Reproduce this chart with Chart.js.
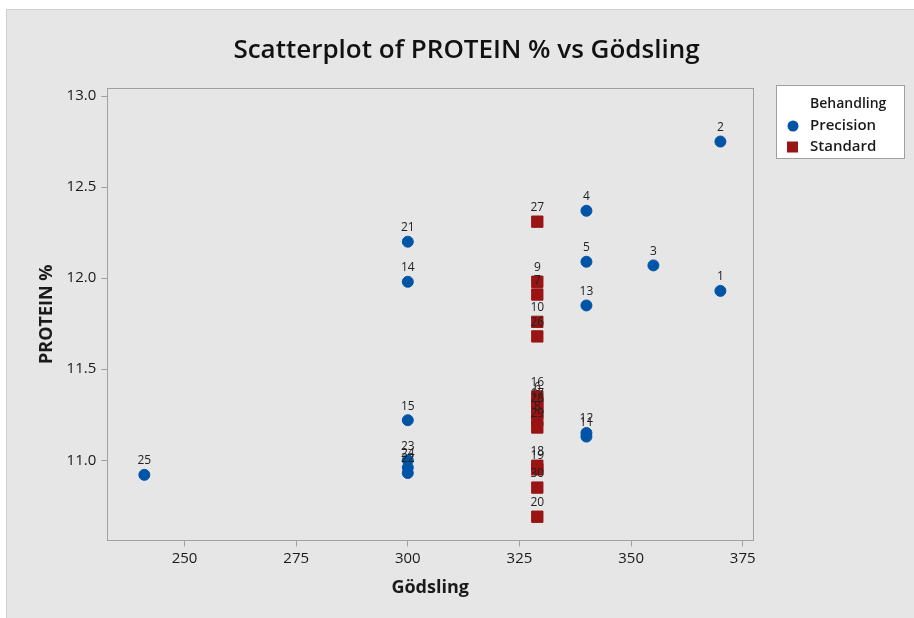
<!DOCTYPE html>
<html>
<head>
<meta charset="utf-8">
<title>Scatterplot of PROTEIN % vs Gödsling</title>
<script src="https://cdn.jsdelivr.net/npm/chart.js@4.4.1/dist/chart.umd.min.js"></script>
<style>
  html, body { margin: 0; padding: 0; background: #fff; overflow: hidden; }
  #panel {
    position: absolute; left: 6px; top: 9px; width: 919px; height: 608px;
    background: #e6e6e6; border-left: 1px solid #cfcfcf; border-top: 1px solid #cfcfcf;
  }
</style>
</head>
<body>
<div id="panel"><canvas id="scatter" width="919" height="608"></canvas></div>
<script>
// Observation numbers, Gödsling (x) and PROTEIN % (y) per treatment
var precisionIds = [1, 2, 3, 4, 5, 11, 12, 13, 14, 15, 21, 22, 23, 24, 25];
var precisionX = [370, 370, 355, 340, 340, 340, 340, 340, 300, 300, 300, 300, 300, 300, 241];
var precisionY = [11.93, 12.75, 12.07, 12.37, 12.09, 11.13, 11.15, 11.85, 11.98, 11.22, 12.20, 10.93, 11.00, 10.96, 10.92];

var standardIds = [6, 7, 8, 9, 10, 16, 17, 18, 19, 20, 26, 27, 28, 29, 30];
var standardX = [329, 329, 329, 329, 329, 329, 329, 329, 329, 329, 329, 329, 329, 329, 329];
var standardY = [11.32, 11.91, 11.22, 11.98, 11.76, 11.35, 11.29, 10.97, 10.95, 10.69, 11.68, 12.31, 11.26, 11.18, 10.85];

var xTicks = [250, 275, 300, 325, 350, 375];
var yTicks = [11.0, 11.5, 12.0, 12.5, 13.0];

var titleText = 'Scatterplot of PROTEIN % vs Gödsling';
var blue = '#0054a6';
var red = '#9a1414';
var axisGray = '#a0a0a0';
var fontFamily = '"Open Sans", "Noto Sans", sans-serif';

function toPoints(xs, ys) {
    return xs.map(function(x, i) {
        return { x: x, y: ys[i] };
    });
}

// Title centred on the whole panel (Chart.js title follows the layout padding)
var panelTitle = {
    id: 'panelTitle',
    afterDraw: function(chart) {
        var ctx = chart.ctx;
        ctx.save();
        ctx.font = '600 26px ' + fontFamily;
        ctx.fillStyle = '#111';
        ctx.textAlign = 'center';
        ctx.textBaseline = 'middle';
        ctx.fillText(titleText, chart.width / 2, 41);
        ctx.restore();
    }
};

// Frame round the plot area
var frame = {
    id: 'frame',
    afterDraw: function(chart) {
        var a = chart.chartArea, ctx = chart.ctx;
        ctx.save();
        ctx.strokeStyle = axisGray;
        ctx.lineWidth = 1;
        ctx.strokeRect(Math.round(a.left) + 0.5, Math.round(a.top) + 0.5,
            Math.round(a.right - a.left), Math.round(a.bottom - a.top));
        ctx.restore();
    }
};

// Observation number above each point
var pointLabels = {
    id: 'pointLabels',
    afterDatasetsDraw: function(chart) {
        var ctx = chart.ctx;
        ctx.save();
        ctx.font = '12px ' + fontFamily;
        ctx.fillStyle = '#222';
        ctx.textAlign = 'center';
        ctx.textBaseline = 'middle';
        chart.data.datasets.forEach(function(ds, d) {
            chart.getDatasetMeta(d).data.forEach(function(el, i) {
                ctx.fillText(String(ds.ids[i]), el.x, el.y - 14);
            });
        });
        ctx.restore();
    }
};

// Legend box on the right, like Minitab
var legendBox = {
    id: 'legendBox',
    afterDraw: function(chart) {
        var ctx = chart.ctx;
        var left = chart.chartArea.right + 23, top = chart.chartArea.top - 3;
        ctx.save();
        ctx.fillStyle = '#fff';
        ctx.fillRect(left, top, 128, 73);
        ctx.strokeStyle = axisGray;
        ctx.strokeRect(left + 0.5, top + 0.5, 128, 73);
        ctx.fillStyle = '#1a1a1a';
        ctx.textBaseline = 'middle';
        ctx.font = '600 14px ' + fontFamily;
        ctx.fillText('Behandling', left + 34, top + 19);
        chart.data.datasets.forEach(function(ds, d) {
            var y = top + 41 + d * 21;
            ctx.fillStyle = ds.backgroundColor;
            if (ds.pointStyle === 'rect') {
                ctx.fillRect(left + 11, y - 5.5, 11, 11);
            } else {
                ctx.beginPath();
                ctx.arc(left + 17, y, 5.5, 0, Math.PI * 2);
                ctx.fill();
            }
            ctx.fillStyle = '#1a1a1a';
            ctx.font = '600 15px ' + fontFamily;
            ctx.fillText(ds.label, left + 34, y);
        });
        ctx.restore();
    }
};

var ctx = document.getElementById('scatter').getContext('2d');
new Chart(ctx, {
    type: 'scatter',
    data: {
        datasets: [{
            label: 'Precision',
            ids: precisionIds,
            data: toPoints(precisionX, precisionY),
            backgroundColor: blue,
            borderColor: blue,
            pointStyle: 'circle',
            pointRadius: 5.5,
            pointHoverRadius: 5.5
        }, {
            label: 'Standard',
            ids: standardIds,
            data: toPoints(standardX, standardY),
            backgroundColor: red,
            borderColor: red,
            pointStyle: 'rect',
            pointRadius: 8,
            pointHoverRadius: 8
        }]
    },
    options: {
        responsive: false,
        animation: false,
        layout: {
            padding: { left: 17, right: 173, top: 78, bottom: 15 }
        },
        plugins: {
            legend: { display: false },
            tooltip: { enabled: false },
            title: { display: false }
        },
        scales: {
            x: {
                type: 'linear',
                min: 232.7,
                max: 377.3,
                afterBuildTicks: function(scale) {
                    scale.ticks = xTicks.map(function(v) { return { value: v }; });
                },
                grid: { drawOnChartArea: false, color: axisGray, tickLength: 6 },
                border: { color: axisGray },
                ticks: {
                    color: '#1a1a1a',
                    padding: 3,
                    maxRotation: 0,
                    font: { family: fontFamily, size: 15 }
                },
                title: {
                    display: true,
                    text: 'Gödsling',
                    color: '#1a1a1a',
                    font: { family: fontFamily, size: 18, weight: 'bold' },
                    padding: { top: 7, bottom: 4 }
                }
            },
            y: {
                min: 10.56,
                max: 13.044,
                afterBuildTicks: function(scale) {
                    scale.ticks = yTicks.map(function(v) { return { value: v }; });
                },
                grid: { drawOnChartArea: false, color: axisGray, tickLength: 6 },
                border: { color: axisGray },
                ticks: {
                    color: '#1a1a1a',
                    padding: 5,
                    font: { family: fontFamily, size: 15 },
                    callback: function(v) { return v.toFixed(1); }
                },
                title: {
                    display: true,
                    text: 'PROTEIN %',
                    color: '#1a1a1a',
                    font: { family: fontFamily, size: 18, weight: 'bold' },
                    padding: { top: 12, bottom: 4 }
                }
            }
        }
    },
    plugins: [panelTitle, frame, pointLabels, legendBox]
});
</script>
</body>
</html>
